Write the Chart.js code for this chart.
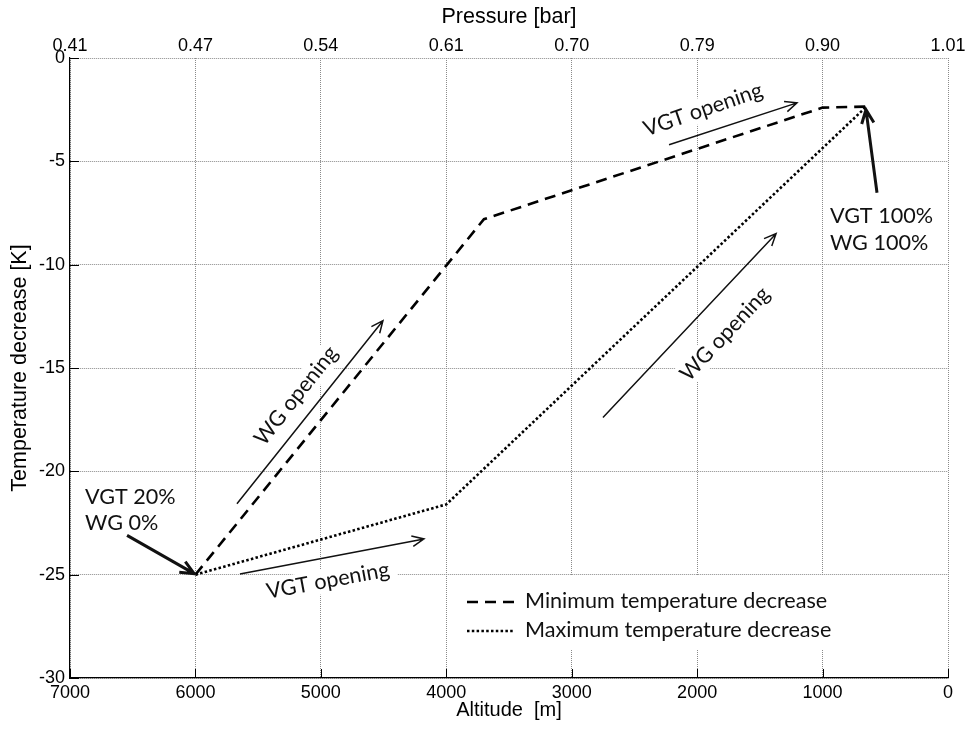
<!DOCTYPE html>
<html lang="en">
<head>
<meta charset="UTF-8">
<title>Temperature decrease vs altitude</title>
<style>
  html, body { margin: 0; padding: 0; background: #fff; }
</style>
</head>
<body>
<canvas id="chart" width="974" height="733"></canvas>

<script src="https://cdn.jsdelivr.net/npm/chart.js@4/dist/chart.umd.min.js"></script>
<script>
// altitude [m] on the bottom axis, pressure [bar] at the same ticks on the top axis
const altitudeTicks = [7000, 6000, 5000, 4000, 3000, 2000, 1000, 0];
const pressureLabels = ['0.41', '0.47', '0.54', '0.61', '0.70', '0.79', '0.90', '1.01'];

// minimum temperature decrease (dashed)
const minAltitude = [6000, 3700, 1000, 650];
const minDecrease = [-25, -7.8, -2.4, -2.35];

// maximum temperature decrease (dotted)
const maxAltitude = [6000, 4000, 650];
const maxDecrease = [-25, -21.6, -2.35];

// arrows and notes, in axis units (altitude, K)
const arrows = [
    { from: [6545, -23.1], to: [6010, -24.95], width: 3 },
    { from: [5645, -24.97], to: [4178, -23.27], width: 1.5 },
    { from: [5669, -21.57], to: [4505, -12.71], width: 1.5 },
    { from: [2751, -17.4], to: [1371, -8.5], width: 1.5 },
    { from: [2224, -4.2], to: [1204, -2.17], width: 1.5 },
    { from: [566, -6.52], to: [654, -2.5], width: 3 }
];
const notes = [
    { text: 'VGT opening', at: [4943, -25.29], angle: -10.5, box: true },
    { text: 'WG opening', at: [5198, -16.34], angle: -51.4, box: true },
    { text: 'WG opening', at: [1778, -13.35], angle: -46.8, box: true },
    { text: 'VGT opening', at: [1953, -2.5], angle: -19, box: true },
    { text: 'VGT 20%', at: [6880, -21.23] },
    { text: 'WG 0%', at: [6880, -22.48] },
    { text: 'VGT 100%', at: [941, -7.63] },
    { text: 'WG 100%', at: [941, -8.94] }
];

// size the note font so the legend text keeps the width of the original
function fitSize(text, target, family) {
    const c = document.createElement('canvas').getContext('2d');
    c.font = '100px ' + family;
    return 100 * target / c.measureText(text).width;
}
const noteSize = fitSize('Minimum temperature decrease', 303, 'Lato');
const noteFont = noteSize.toFixed(1) + 'px Lato';
const axisFont = 'Liberation Sans, Arial, sans-serif';

function toPoints(xs, ys) {
    return xs.map((v, i) => ({ x: v, y: ys[i] }));
}

function arrow(ctx, x1, y1, x2, y2, lw) {
    const a = Math.atan2(y2 - y1, x2 - x1);
    const head = lw > 2 ? 15 : 13, spread = 0.42;
    ctx.lineWidth = lw;
    ctx.beginPath();
    ctx.moveTo(x1, y1);
    ctx.lineTo(x2, y2);
    ctx.moveTo(x2 - head * Math.cos(a - spread), y2 - head * Math.sin(a - spread));
    ctx.lineTo(x2, y2);
    ctx.lineTo(x2 - head * Math.cos(a + spread), y2 - head * Math.sin(a + spread));
    ctx.stroke();
}

const decor = {
    id: 'decor',
    beforeDatasetsDraw(chart) {
        const { ctx, chartArea: area, scales: { x, y } } = chart;
        ctx.save();
        ctx.fillStyle = '#fff';
        ctx.font = noteFont;
        // white patches under the rotated notes
        notes.filter(n => n.box).forEach(n => {
            const w = ctx.measureText(n.text).width + 14;
            const h = noteSize * 1.15;
            ctx.save();
            ctx.translate(x.getPixelForValue(n.at[0]), y.getPixelForValue(n.at[1]));
            ctx.rotate(n.angle * Math.PI / 180);
            ctx.fillRect(-w / 2, -h / 2, w, h);
            ctx.restore();
        });
        // legend background
        ctx.fillRect(area.right - 493, area.bottom - 102, 390, 74);
        ctx.restore();
    },
    afterDatasetsDraw(chart) {
        const { ctx, chartArea: area, scales: { x, y } } = chart;
        ctx.save();

        // inward tick marks on the left and bottom axes
        ctx.strokeStyle = '#000';
        ctx.lineWidth = 1;
        ctx.beginPath();
        altitudeTicks.forEach(v => {
            const px = Math.round(x.getPixelForValue(v)) + 0.5;
            ctx.moveTo(px, area.bottom);
            ctx.lineTo(px, area.bottom - 9);
        });
        y.ticks.forEach(t => {
            const py = Math.round(y.getPixelForValue(t.value)) + 0.5;
            ctx.moveTo(area.left, py);
            ctx.lineTo(area.left + 9, py);
        });
        ctx.stroke();

        // arrows
        ctx.strokeStyle = '#111';
        ctx.lineJoin = 'miter';
        ctx.lineCap = 'butt';
        arrows.forEach(a => {
            arrow(ctx,
                x.getPixelForValue(a.from[0]), y.getPixelForValue(a.from[1]),
                x.getPixelForValue(a.to[0]), y.getPixelForValue(a.to[1]), a.width);
        });

        // notes
        ctx.fillStyle = '#111';
        ctx.font = noteFont;
        ctx.textBaseline = 'middle';
        notes.forEach(n => {
            ctx.save();
            ctx.translate(x.getPixelForValue(n.at[0]), y.getPixelForValue(n.at[1]));
            if (n.angle) {
                ctx.rotate(n.angle * Math.PI / 180);
                ctx.textAlign = 'center';
            } else {
                ctx.textAlign = 'left';
            }
            ctx.fillText(n.text, 0, 0);
            ctx.restore();
        });

        // legend, built from the datasets
        const lx = area.right - 481, row0 = area.bottom - 76;
        chart.data.datasets.forEach((ds, i) => {
            const ly = row0 + i * 29;
            ctx.strokeStyle = ds.borderColor;
            ctx.lineWidth = ds.borderWidth;
            ctx.setLineDash(ds.borderDash);
            ctx.beginPath();
            ctx.moveTo(lx, ly);
            ctx.lineTo(lx + 48, ly);
            ctx.stroke();
            ctx.setLineDash([]);
            ctx.textAlign = 'left';
            ctx.fillText(ds.label, lx + 58, ly - 1);
        });
        ctx.restore();
    }
};

const ctx = document.getElementById('chart').getContext('2d');

const chart = new Chart(ctx, {
    type: 'line',
    data: {
        datasets: [
            {
                label: 'Minimum temperature decrease',
                data: toPoints(minAltitude, minDecrease),
                borderColor: '#000',
                borderWidth: 2.6,
                borderDash: [11, 7],
                pointRadius: 0,
                tension: 0
            },
            {
                label: 'Maximum temperature decrease',
                data: toPoints(maxAltitude, maxDecrease),
                borderColor: '#000',
                borderWidth: 2.6,
                borderDash: [2.5, 2.3],
                pointRadius: 0,
                tension: 0
            }
        ]
    },
    options: {
        responsive: false,
        animation: false,
        layout: { padding: { left: 0, right: 26, top: 0, bottom: 0 } },
        plugins: {
            legend: { display: false },
            tooltip: { enabled: false }
        },
        scales: {
            x: {
                type: 'linear',
                position: 'bottom',
                min: 0,
                max: 7000,
                reverse: true,
                afterBuildTicks: s => { s.ticks = altitudeTicks.map(v => ({ value: v })); },
                afterFit: s => { s.height = 55; },
                ticks: {
                    color: '#000',
                    font: { family: axisFont, size: 18 },
                    padding: 4,
                    maxRotation: 0,
                    autoSkip: false,
                    callback: v => String(v)
                },
                grid: { color: '#8a8a8a', lineWidth: 1, drawTicks: false },
                border: { display: true, color: '#000', width: 1.2, dash: [1, 1] },
                title: {
                    display: true,
                    text: 'Altitude  [m]',
                    color: '#000',
                    font: { family: axisFont, size: 20 },
                    padding: { top: 0, bottom: 11 }
                }
            },
            x2: {
                type: 'linear',
                position: 'top',
                min: 0,
                max: 7000,
                reverse: true,
                afterBuildTicks: s => { s.ticks = altitudeTicks.map(v => ({ value: v })); },
                afterFit: s => { s.height = 58; },
                ticks: {
                    color: '#000',
                    font: { family: axisFont, size: 18 },
                    padding: 1,
                    maxRotation: 0,
                    autoSkip: false,
                    callback: v => pressureLabels[altitudeTicks.indexOf(v)]
                },
                grid: { display: false, drawTicks: false },
                border: { display: false },
                title: {
                    display: true,
                    text: 'Pressure [bar]',
                    color: '#000',
                    font: { family: axisFont, size: 21.5 },
                    padding: { top: 4, bottom: 0 }
                }
            },
            y: {
                type: 'linear',
                min: -30,
                max: 0,
                afterFit: s => { s.width = 70; },
                ticks: {
                    stepSize: 5,
                    color: '#000',
                    font: { family: axisFont, size: 18 },
                    padding: 5,
                    callback: v => String(v)
                },
                grid: { color: '#8a8a8a', lineWidth: 1, drawTicks: false },
                border: { display: true, color: '#000', width: 1.2, dash: [1, 1] },
                title: {
                    display: true,
                    text: 'Temperature decrease [K]',
                    color: '#000',
                    font: { family: axisFont, size: 21.5 },
                    padding: { top: 7, bottom: 0 }
                }
            }
        }
    },
    plugins: [decor]
});
</script>
</body>
</html>
